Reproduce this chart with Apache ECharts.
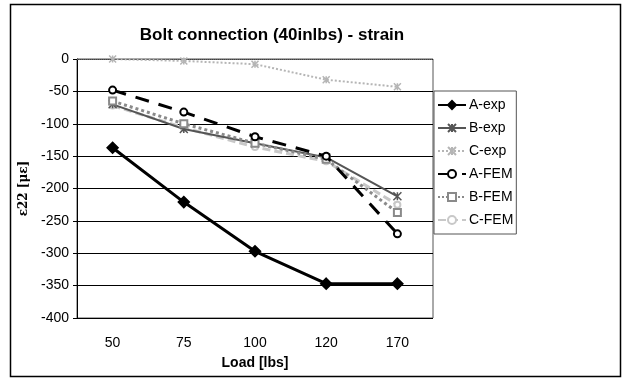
<!DOCTYPE html>
<html><head><meta charset="utf-8">
<script src="https://cdn.jsdelivr.net/npm/echarts@6/dist/echarts.min.js"></script>
<style>html,body{margin:0;padding:0;background:#fff}#c{width:624px;height:379px}</style>
</head><body><div id="c"></div>
<script>
const categories = ['50','75','100','120','170'];
const aExp = [-137, -221, -297, -347, -347];
const bExp = [-70, -108, -130, -152, -212];
const cExp = [0, -3, -8, -32, -43];
const aFem = [-48, -82, -120, -150, -270];
const bFem = [-65, -100, -130, -155, -237];
const cFem = [-72, -106, -136, -158, -225];
const yTicks = {min: -400, max: 0, interval: 50};

const chart = echarts.init(document.getElementById('c'));
const font = '"Liberation Sans", Arial, sans-serif';
function s(name, data, color, width, type, symbol, size, z) {
  return {name, type: 'line', data, symbol, symbolSize: size, z: z || 2,
    lineStyle: {color, width, type},
    itemStyle: {color, borderColor: color, borderWidth: 1.5}};
}
chart.setOption({
  animation: false,
  title: {text: 'Bolt connection (40inlbs) - strain', left: 267, top: 22, textAlign: 'center',
    textStyle: {fontFamily: font, fontSize: 17, fontWeight: 'bold', color: '#000'}},
  grid: {left: 77, right: 191, top: 59, bottom: 61, show: true, borderColor: '#555', borderWidth: 1, backgroundColor: '#fff'},
  legend: {orient: 'vertical', left: 434, top: 91, itemGap: 9, itemWidth: 28, itemHeight: 10,
    padding: [7, 3, 7, 3], borderColor: '#555', borderWidth: 1, backgroundColor: '#fff',
    textStyle: {fontFamily: font, fontSize: 14, color: '#000', padding: [0, 0, 0, -2]},
    data: ['A-exp','B-exp','C-exp','A-FEM','B-FEM','C-FEM']},
  xAxis: {type: 'category', data: categories, boundaryGap: true,
    name: 'Load [lbs]', nameLocation: 'middle', nameGap: 38,
    nameTextStyle: {fontFamily: font, fontSize: 14, fontWeight: 'bold', color: '#000'},
    axisLine: {lineStyle: {color: '#666', type: 'dotted'}},
    axisTick: {show: false},
    axisLabel: {fontFamily: font, fontSize: 14, color: '#000', margin: 18}},
  yAxis: {type: 'value', min: yTicks.min, max: yTicks.max, interval: yTicks.interval,
    name: 'ε22 [με]', nameLocation: 'middle', nameGap: 45, nameRotate: 90,
    nameTextStyle: {fontFamily: '"DejaVu Serif", serif', fontSize: 12, fontWeight: 'bold', color: '#000'},
    axisLine: {show: true, lineStyle: {color: '#000'}},
    axisTick: {show: true, length: 4, lineStyle: {color: '#000'}},
    axisLabel: {fontFamily: font, fontSize: 14, color: '#000', margin: 8},
    splitLine: {lineStyle: {color: '#000', width: 1}}},
  graphic: [{type: 'rect', shape: {x: 10.5, y: 4.5, width: 610, height: 372},
    style: {fill: 'none', stroke: '#000', lineWidth: 1.5}, z: -1, silent: true}],
  series: [
    s('A-exp', aExp, '#000', 3, 'solid', 'diamond', 11, 6),
    s('B-exp', bExp, '#555', 2, 'solid', 'path://M0,0L10,10M10,0L0,10M5,0L5,10', 8, 4),
    s('C-exp', cExp, '#b5b5b5', 2, 'dotted', 'path://M0,0L10,10M10,0L0,10M5,0L5,10', 7, 3),
    s('A-FEM', aFem, '#000', 3, [14, 10], 'emptyCircle', 7, 5),
    s('B-FEM', bFem, '#8a8a8a', 3, 'dotted', 'emptyRect', 7, 4),
    s('C-FEM', cFem, '#c8c8c8', 3, [8, 4], 'emptyCircle', 6, 3)
  ]
});
</script></body></html>
